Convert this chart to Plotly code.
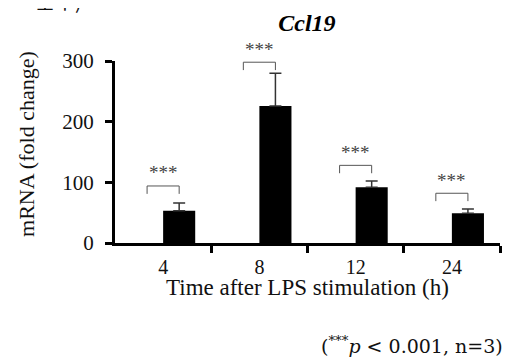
import plotly.graph_objects as go

# ---- data ----
time_labels = ["4", "8", "12", "24"]
control_values = [0, 0, 0, 0]
lps_values = [53, 226, 92, 49]
lps_errors = [13, 54, 10, 7]
bracket_tops = [94, 298, 128, 82]
significance = ["***", "***", "***", "***"]

xpos = list(range(len(time_labels)))
serif = "Liberation Serif, Times New Roman, serif"

fig = go.Figure()
fig.add_trace(go.Bar(x=xpos, y=control_values, marker=dict(color="black", line=dict(width=0)),
                     showlegend=False, name="control"))
fig.add_trace(go.Bar(x=xpos, y=lps_values, marker=dict(color="black", line=dict(width=0)),
                     error_y=dict(type="data", array=lps_errors, arrayminus=[0]*4, symmetric=False,
                                  thickness=1.5, width=6, color="#333333"),
                     showlegend=False, name="LPS"))

off = 1/6
drop = 13
for i, (top, s) in enumerate(zip(bracket_tops, significance)):
    fig.add_shape(type="path",
                  path=f"M {i-off},{top-drop} L {i-off},{top} L {i+off},{top} L {i+off},{top-drop}",
                  xref="x", yref="y", line=dict(color="#555555", width=1))
    fig.add_annotation(x=i, y=top, xref="x", yref="y", text=s, showarrow=False,
                       yanchor="middle", yshift=13,
                       font=dict(family=serif, size=19, color="#444444"))

# axis titles / notes
fig.add_annotation(x=-0.2286, y=0.544, xref="paper", yref="paper", text="mRNA (fold change)",
                   textangle=-90, showarrow=False, xanchor="center", yanchor="middle",
                   font=dict(family=serif, size=22, color="#111111"))
fig.add_annotation(x=0.499, y=-0.243, xref="paper", yref="paper",
                   text="Time after LPS stimulation (h)", showarrow=False,
                   xanchor="center", yanchor="middle",
                   font=dict(family=serif, size=23, color="#111111"))
fig.add_annotation(x=1.013, y=-0.56, xref="paper", yref="paper",
                   text="(<sup>***</sup><i>p</i> &lt; 0.001, n=3)", showarrow=False,
                   xanchor="right", yanchor="middle",
                   font=dict(family="DejaVu Serif", size=19, color="#111111"))
fig.add_annotation(x=-0.148, y=1.33, xref="paper", yref="paper", text="基準)",
                   showarrow=False, xanchor="center", yanchor="middle",
                   font=dict(family="Noto Sans CJK JP", size=20, color="#111111"))

fig.update_layout(
    width=505, height=353,
    margin=dict(l=107, r=13, t=53, b=118),
    paper_bgcolor="white", plot_bgcolor="white",
    barmode="group", bargap=1/3, bargroupgap=0,
    title=dict(text="<b><i>Ccl19</i></b>", x=0.592, xanchor="center", y=0.9575, yanchor="middle",
               font=dict(family=serif, size=24, color="black")),
    xaxis=dict(range=[-0.5, 3.5], tickvals=xpos, ticktext=time_labels, ticks="outside",
               ticklen=0, tickwidth=0,
               showline=True, linecolor="black", linewidth=3, showgrid=False, zeroline=False,
               tickfont=dict(family=serif, size=20, color="#111111"), ticklabelstandoff=4,
               minor=dict(tickvals=[0.5, 1.5, 2.5, 3.5], ticks="outside", ticklen=7,
                          tickwidth=3, tickcolor="black", showgrid=False)),
    yaxis=dict(range=[0, 300], tickvals=[0, 100, 200, 300], ticks="outside", ticklen=7,
               tickwidth=3, tickcolor="black", showline=True, linecolor="black", linewidth=3,
               showgrid=False, zeroline=False, ticklabelstandoff=7,
               tickfont=dict(family=serif, size=21, color="#111111")),
)

fig.write_html("out.html")
